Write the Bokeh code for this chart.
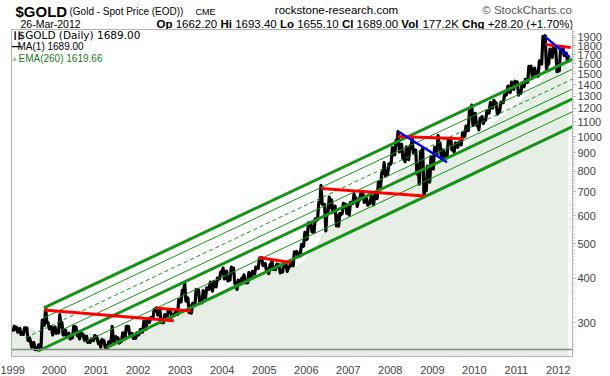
import pandas as pd
from bokeh.plotting import figure
from bokeh.layouts import column
from bokeh.models import (Range1d, FixedTicker, Label, Span, ColumnDataSource,
                          DatetimeTickFormatter, NumeralTickFormatter)
from bokeh.embed import file_html
from bokeh.resources import INLINE

# ---------------- data ----------------
month_starts = pd.date_range("1999-01-01", "2012-03-01", freq="MS")
last_date = pd.Timestamp("2012-03-26")

gold_high = [
    293, 291, 289, 290, 290, 267, 264, 260, 305, 330, 300, 292,
    292, 316, 300, 286, 280, 293, 292, 282, 278, 275, 270, 276,
    272, 269, 267, 265, 293, 274, 272, 281, 293, 293, 280, 281,
    287, 303, 305, 310, 327, 330, 326, 316, 326, 323, 322, 348,
    370, 389, 352, 340, 372, 371, 369, 376, 390, 392, 400, 417,
    427, 419, 430, 427, 395, 400, 409, 415, 418, 430, 455, 457,
    440, 437, 447, 438, 436, 440, 438, 447, 474, 476, 497, 538,
    572, 574, 587, 654, 730, 645, 676, 664, 638, 608, 649, 645,
    654, 690, 673, 692, 691, 670, 682, 686, 745, 795, 845, 838,
    932, 975, 1033, 951, 936, 940, 988, 917, 910, 930, 826, 880,
    935, 1007, 960, 917, 984, 990, 960, 965, 1025, 1070, 1195, 1227,
    1162, 1125, 1138, 1180, 1249, 1265, 1245, 1250, 1310, 1387, 1424, 1431,
    1425, 1413, 1448, 1575, 1577, 1556, 1632, 1912, 1921, 1762, 1804, 1764,
    1764, 1791, 1720]
gold_low = [
    283, 282, 278, 278, 267, 256, 252, 252, 253, 295, 288, 277,
    280, 281, 277, 273, 270, 272, 276, 270, 268, 264, 264, 267,
    262, 256, 256, 255, 263, 265, 263, 266, 270, 277, 271, 271,
    278, 282, 287, 300, 308, 315, 300, 300, 310, 311, 314, 316,
    343, 345, 320, 319, 335, 342, 341, 352, 372, 368, 378, 398,
    398, 393, 395, 386, 372, 385, 388, 388, 399, 411, 426, 434,
    420, 412, 423, 423, 414, 416, 418, 430, 433, 463, 462, 492,
    515, 540, 538, 585, 645, 543, 612, 613, 561, 560, 608, 608,
    602, 648, 636, 663, 653, 642, 649, 643, 669, 723, 774, 782,
    845, 888, 906, 866, 850, 861, 900, 786, 735, 681, 705, 745,
    810, 890, 866, 865, 880, 917, 904, 933, 948, 1000, 1040, 1075,
    1075, 1045, 1088, 1113, 1165, 1203, 1157, 1176, 1245, 1315, 1330, 1357,
    1308, 1323, 1381, 1420, 1462, 1496, 1478, 1600, 1535, 1600, 1670, 1523,
    1530, 1690, 1627]
gold_close = [
    288, 287, 280, 287, 272, 262, 255, 255, 300, 300, 292, 290,
    283, 293, 278, 274, 272, 288, 277, 277, 273, 265, 269, 274,
    265, 266, 258, 263, 267, 271, 265, 273, 293, 279, 275, 277,
    282, 297, 303, 308, 326, 318, 304, 312, 323, 316, 318, 347,
    367, 347, 334, 336, 364, 346, 354, 375, 384, 386, 398, 416,
    400, 397, 426, 388, 393, 395, 391, 408, 416, 428, 453, 438,
    423, 434, 429, 436, 418, 437, 430, 434, 473, 470, 496, 513,
    569, 556, 582, 654, 643, 616, 632, 623, 599, 604, 646, 632,
    650, 666, 662, 680, 659, 650, 665, 672, 743, 789, 783, 834,
    923, 971, 933, 871, 885, 930, 918, 833, 884, 730, 814, 869,
    919, 942, 916, 883, 980, 926, 954, 955, 1000, 1040, 1180, 1095,
    1081, 1116, 1113, 1180, 1207, 1244, 1169, 1246, 1307, 1357, 1386, 1420,
    1332, 1409, 1439, 1556, 1536, 1501, 1628, 1813, 1620, 1722, 1746, 1531,
    1744, 1700, 1689]

# EMA(260) read at month ends, starting 1998-12-31
ema_values = [
    297,
    295.5, 294.4, 293.1, 291.4, 289.3, 285.2, 280.9, 277.3, 275.5, 280.8, 282.6, 282.8,
    283.0, 285.5, 285.6, 284.8, 283.3, 283.7, 283.5, 282.2, 280.9, 279.2, 277.2, 276.4,
    274.9, 272.7, 271.3, 269.7, 270.1, 270.1, 269.8, 270.3, 272.2, 273.8, 274.1, 274.2,
    275.4, 278.5, 281.2, 284.3, 288.7, 293.6, 296.6, 298.6, 301.7, 304.0, 306.2, 310.2,
    317.2, 323.4, 325.9, 326.2, 330.5, 334.3, 336.8, 340.2, 346.0, 350.9, 356.7, 364.2,
    371.6, 376.6, 381.0, 384.4, 384.4, 385.5, 387.4, 389.3, 391.6, 395.8, 402.3, 408.1,
    410.5, 412.4, 415.6, 417.7, 418.3, 420.1, 420.7, 423.1, 428.0, 434.3, 440.5, 450.9,
    465.5, 478.8, 490.4, 508.3, 533.3, 542.6, 556.1, 567.4, 572.0, 574.1, 582.0, 589.0,
    595.3, 605.6, 613.1, 622.9, 629.5, 633.3, 638.0, 642.0, 652.5, 667.6, 688.3, 705.4,
    732.8, 760.9, 791.8, 809.2, 820.9, 831.2, 847.3, 846.1, 843.7, 838.1, 826.5, 825.0,
    829.9, 846.7, 858.2, 862.9, 872.7, 883.6, 891.1, 899.9, 914.2, 933.4, 962.2, 987.8,
    1007.2, 1020.0, 1033.9, 1050.9, 1073.9, 1097.4, 1111.7, 1127.1, 1148.5, 1177.4, 1206.2, 1233.8,
    1252.0, 1269.9, 1292.9, 1319.8, 1348.5, 1375.4, 1404.8, 1457.4, 1504.3, 1528.2, 1559.6, 1573.4,
    1585.7, 1608.7, 1619.66]

# channel lines (green)
channel_start_dates = ["1999-10-04", "1999-10-04", "1999-04-28", "2000-02-27",
                       "1999-08-10", "2000-09-14", "2001-04-02"]
channel_start_prices = [330, 309.5, 272.2, 285.3, 249.3, 264, 255.3]
channel_end_dates = ["2012-05-03"] * 7
channel_end_prices = [1650, 1547, 1451, 1361, 1277, 1175, 1067]

# resistance lines (red)
red_start_dates = ["1999-10-04", "2002-06-02", "2004-11-13", "2006-05-12", "2008-03-06", "2011-09-13"]
red_start_prices = [325.7, 330, 457.6, 715, 1000, 1816]
red_end_dates = ["2002-11-06", "2003-04-05", "2005-08-19", "2008-10-24", "2009-09-24", "2012-04-16"]
red_end_prices = [303.6, 323.6, 443, 681, 987, 1780]

# down-trend lines (blue)
blue_start_dates = ["2008-03-17", "2011-09-06"]
blue_start_prices = [1030, 1910]
blue_end_dates = ["2009-05-08", "2012-04-09"]
blue_end_prices = [847, 1672]

baseline_price = 252
year_ticks = list(range(1999, 2013))
price_ticks = list(range(300, 2000, 100))

# ---------------- header ----------------
HEAD_H = 29
header = figure(width=610, height=HEAD_H, x_range=Range1d(0, 610), y_range=Range1d(0, HEAD_H),
                output_backend="svg", toolbar_location=None, min_border=0,
                x_axis_location=None, y_axis_location=None, outline_line_color=None,
                background_fill_color="white", border_fill_color="white")
header.grid.visible = False


def htxt(t, x, y, size="10px", bold=False, color="black", font="Liberation Sans", align="left"):
    header.add_layout(Label(x=x, y=HEAD_H - y, x_units="screen", y_units="screen", text=t,
                            text_font=font, text_font_size=size, text_color=color,
                            text_font_style="bold" if bold else "normal",
                            text_align=align, text_baseline="middle"))


htxt("$GOLD", 4, 11, size="15px", bold=True)
htxt("(Gold - Spot Price (EOD))", 58, 11, size="10px")
htxt("CME", 184, 11, size="9px")
htxt("rockstone-research.com", 325, 9, size="11.5px", align="center")
htxt("\u00a9 StockCharts.com", 570, 9, size="11.5px", color="#555555", align="right")
htxt("26-Mar-2012", 9, 23, size="10.5px")

AR = {c: 556 for c in "0123456789"}
AR.update({".": 278, "+": 584, "(": 333, ")": 333, "%": 889, "K": 667, " ": 278})
AB = {"O": 778, "p": 611, "H": 722, "i": 278, "L": 611, "o": 611, "C": 722, "l": 278,
      "V": 667, "h": 611, "g": 611}
pieces = [("Op", True), ("1662.20", False), ("Hi", True), ("1693.40", False), ("Lo", True),
          ("1655.10", False), ("Cl", True), ("1689.00", False), ("Vol", True), ("177.2K", False),
          ("Chg", True), ("+28.20 (+1.70%)", False)]
fs = 11.5
xpos = 145
for t, b in pieces:
    htxt(t, xpos, 23, size=f"{fs}px", bold=b)
    w = sum((AB if b else AR).get(c, 556) for c in t) * fs / 1000
    xpos += w + 278 * fs / 1000
htxt("\u25b2", 567, 23, size="8px", color="#2e8b2e", align="center")

# ---------------- main figure ----------------
x_start = pd.Timestamp("1998-12-27").to_pydatetime()
x_end = pd.Timestamp("2012-05-03").to_pydatetime()
y_bottom, y_top = 241, 2000

p = figure(width=610, height=376 - HEAD_H, x_axis_type="datetime", y_axis_type="log",
           x_range=Range1d(x_start, x_end), y_range=Range1d(y_bottom, y_top),
           y_axis_location="right", output_backend="svg", toolbar_location=None,
           min_border_left=11, min_border_right=38, min_border_top=0,
           min_border_bottom=17, background_fill_color="white",
           border_fill_color="white", outline_line_color="#b4b4b4")
p.grid.visible = False

# EMA area
ema_dates = list(pd.date_range("1999-01-01", periods=len(ema_values), freq="MS") - pd.Timedelta(days=1))
ema_dates[-1] = last_date
ema_src = ColumnDataSource(dict(x=ema_dates, y=ema_values, b=[y_bottom] * len(ema_values)))
p.varea(x="x", y1="b", y2="y", source=ema_src, fill_color="#e6eee6")
p.line(x="x", y="y", source=ema_src, line_color="#d2ddd2", line_width=1)

p.add_layout(Span(location=baseline_price, dimension="width", line_color="#858585", line_width=1.5))

# price path (monthly extremes and closes)
px, py = [], []
prev = gold_close[0]
for i, m in enumerate(month_starts):
    hi, lo, cl = gold_high[i], gold_low[i], gold_close[i]
    first, second = (lo, hi) if cl >= prev else (hi, lo)
    end = last_date if i == len(month_starts) - 1 else m + pd.offsets.MonthEnd(0)
    px += [m + pd.Timedelta(days=8), m + pd.Timedelta(days=19), end]
    py += [first, second, cl]
    prev = cl
p.line(px, py, line_color="black", line_width=3.2, line_join="round")

# green channel
cw = [3, 1, 1, 1, 3, 1, 3]
cd = ["solid", "solid", "4 3", "solid", "solid", "solid", "solid"]
for i in range(len(channel_start_dates)):
    p.line([pd.Timestamp(channel_start_dates[i]), pd.Timestamp(channel_end_dates[i])],
           [channel_start_prices[i], channel_end_prices[i]],
           line_color="#149414", line_width=cw[i], line_dash=cd[i])

for i in range(len(red_start_dates)):
    p.line([pd.Timestamp(red_start_dates[i]), pd.Timestamp(red_end_dates[i])],
           [red_start_prices[i], red_end_prices[i]], line_color="#ff0000", line_width=3)
for i in range(len(blue_start_dates)):
    p.line([pd.Timestamp(blue_start_dates[i]), pd.Timestamp(blue_end_dates[i])],
           [blue_start_prices[i], blue_end_prices[i]], line_color="#0000ff", line_width=2.5)

# axes
xa = p.xaxis[0]
xa.ticker = FixedTicker(ticks=[pd.Timestamp(f"{y}-01-01").value // 10**6 for y in year_ticks])
xa.formatter = DatetimeTickFormatter(years="%Y", months="%Y", days="%Y", hours="%Y")
xa.major_tick_line_color = None
xa.minor_tick_line_color = None
xa.axis_line_color = "#b4b4b4"
xa.major_label_text_font = "Liberation Sans"
xa.major_label_text_font_size = "11px"
xa.major_label_standoff = 3

ya = p.yaxis[0]
minor = [v for v in range(250, 1000, 10)] + [v for v in range(1000, 2000, 25)]
ya.ticker = FixedTicker(ticks=price_ticks, minor_ticks=minor)
ya.formatter = NumeralTickFormatter(format="0")
ya.axis_line_color = "#b4b4b4"
ya.major_tick_line_color = "#888888"
ya.major_tick_out = 3
ya.major_tick_in = 0
ya.minor_tick_line_color = "#c8c8c8"
ya.minor_tick_out = 2
ya.minor_tick_in = 0
ya.major_label_text_font = "Liberation Sans"
ya.major_label_text_font_size = "11px"
ya.major_label_standoff = 2

# legend texts inside the frame
FL, FB = 11, 359  # frame left / bottom in page pixels


def txt(t, x, y, size="10px", bold=False, color="black", font="Liberation Sans", align="left"):
    p.add_layout(Label(x=x - FL, y=FB - y, x_units="screen", y_units="screen", text=t,
                       text_font=font, text_font_size=size, text_color=color,
                       text_font_style="bold" if bold else "normal",
                       text_align=align, text_baseline="middle"))


txt("\u2503\u2503", 12, 37.5, size="7px", bold=True)
txt("$GOLD (Daily) 1689.00", 18, 37.5, size="10.5px", font="DejaVu Sans")
txt("\u2014", 11, 48.5, size="10px", bold=True)
txt("MA(1) 1689.00", 17, 48.5, size="10px")
txt("\u25b2", 14, 60.5, size="8px", color="#a8c8a8", align="center")
txt("EMA(260) 1619.66", 18, 60.5, size="10px", color="#1e7a1e")

layout = column(header, p, spacing=0)
open("out.html", "w").write(file_html(layout, INLINE))
